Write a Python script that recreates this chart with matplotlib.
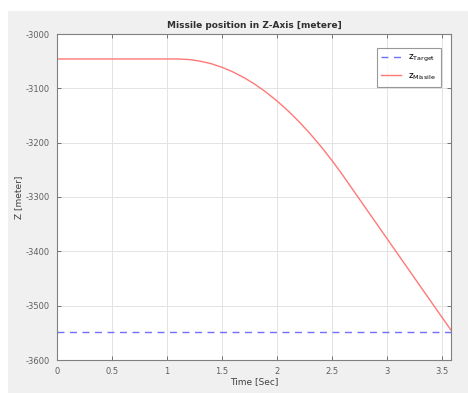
import matplotlib
matplotlib.use('Agg')
import matplotlib.pyplot as plt
from matplotlib.patches import Rectangle
import numpy as np

plt.rcParams['axes.unicode_minus'] = False

# values
t_missile = [0.0, 0.5, 1.0, 1.1, 1.2, 1.3, 1.4, 1.5, 1.6, 1.7, 1.8, 1.9, 2.0, 2.1, 2.2,
             2.3, 2.4, 2.5, 2.6, 2.7, 2.8, 2.9, 3.0, 3.1, 3.2, 3.3, 3.4, 3.5, 3.58]
z_missile = [-3046, -3046, -3046, -3046, -3047, -3050, -3054.6, -3061.3, -3069.9, -3080.4,
             -3092.8, -3107.1, -3123.4, -3141.5, -3161.6, -3183.5, -3207.4, -3233.2,
             -3260.9, -3290, -3319, -3348, -3377, -3406, -3435, -3464, -3493, -3522, -3545]
t_target = [0.0, 3.58]
z_target = [-3548, -3548]

xticks = np.arange(0, 3.51, 0.5)
yticks = np.arange(-3600, -2999, 100)

fig = plt.figure(figsize=(4.68, 3.93), dpi=100)
fig.patch.set_facecolor('white')
fig.patches.append(Rectangle((8/468, 0), 1, 1 - 11/393, transform=fig.transFigure,
                             facecolor='#f0f0f0', edgecolor='none', zorder=-10))

ax = fig.add_axes([57/468, 1 - 360/393, (451-57)/468, (360-34)/393])
ax.plot(t_target, z_target, '--', color='#7070ff', lw=1, dashes=(5, 4), label=r'$\mathrm{z_{Target}}$')
ax.plot(t_missile, z_missile, '-', color='#ff7878', lw=1, label=r'$\mathrm{z_{Missile}}$')

ax.set_xlim(0, 3.58)
ax.set_ylim(-3600, -3000)
ax.set_xticks(xticks)
ax.set_xticklabels(['0', '0.5', '1', '1.5', '2', '2.5', '3', '3.5'])
ax.set_yticks(yticks)
ax.tick_params(direction='in', length=3, width=0.6, labelsize=6, colors='#606060',
               top=True, right=True, pad=5)
ax.grid(True, color='#e3e3e3', lw=0.7)
for s in ax.spines.values():
    s.set_color('#808080')
    s.set_linewidth(0.8)

ax.set_title('Missile position in Z-Axis [metere]', fontsize=6.5, fontweight='bold', color='#303030', pad=4)
ax.set_xlabel('Time [Sec]', fontsize=6.5, color='#404040', labelpad=1)
ax.set_ylabel('Z [meter]', fontsize=6.5, color='#404040', labelpad=2)

leg = ax.legend(loc='upper right', fontsize=6.5, frameon=True, fancybox=False,
                borderpad=0.5, handlelength=2.2, labelspacing=0.8, bbox_to_anchor=(0.985, 0.97))
leg.get_frame().set_edgecolor('#808080')
leg.get_frame().set_linewidth(0.8)

fig.savefig('out.png', dpi=100)
